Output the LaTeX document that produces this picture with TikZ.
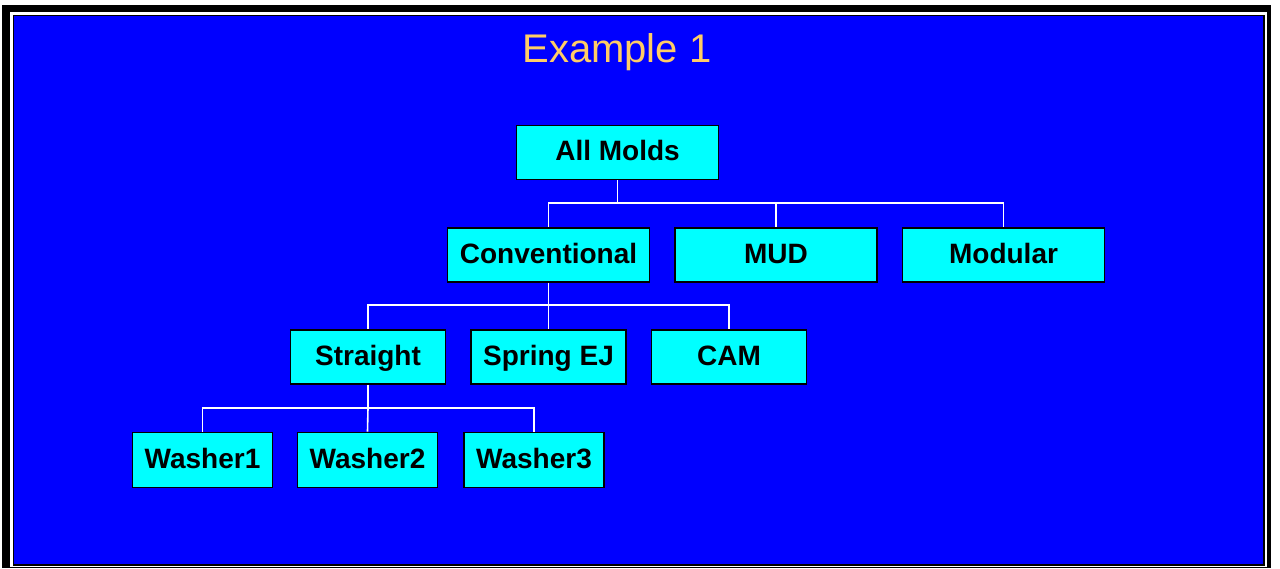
\documentclass[tikz,border=0pt]{standalone}
\usepackage{fontspec}
\setmainfont{Liberation Sans}
\usepackage{xcolor}
\usepackage{tikz}
\usetikzlibrary{positioning}
\definecolor{slideblue}{HTML}{0000FF}
\definecolor{boxcyan}{HTML}{00FFFF}
\definecolor{titlegold}{HTML}{FFCC66}

\begin{document}
\begin{tikzpicture}[
  x=1pt,y=-1pt,
  font=\bfseries\fontsize{28}{30}\selectfont,
  mold/.style={draw=black,line width=1.8pt,fill=boxcyan,inner sep=0pt,text height=21pt,text depth=5pt,minimum width=202pt,minimum height=54pt},
  sub/.style={mold,minimum width=155pt},
  washer/.style={mold,minimum width=140pt,minimum height=55pt},
  link/.style={draw=white,line width=1.6pt}
]
\useasboundingbox (0,0) rectangle (1280,568);
% slide frame
\fill[white] (0,0) rectangle (1280,568);
\fill[black] (2,5) rectangle (1271,568);
\fill[white] (10,12) rectangle (1267,567);
\filldraw[fill=slideblue,draw=black,line width=1.5pt] (13.5,15.5) rectangle (1264,565);
\node[text=titlegold,font=\fontsize{40}{44}\selectfont,anchor=base] (title) at (617,62) {Example 1};
% tree
\node[mold] (all) at (617.5,152.5) {All Molds};
\node[mold] (conv) at (548.5,255) {Conventional};
\node[mold] (mud) at (776,255) {MUD};
\node[mold] (modular) at (1003.5,255) {Modular};
\node[sub] (straight) at (368,357) {Straight};
\node[sub] (spring) at (548.5,357) {Spring EJ};
\node[sub] (cam) at (729,357) {CAM};
\node[washer] (w1) at (202.5,460) {Washer1};
\node[washer] (w2) at (367.5,460) {Washer2};
\node[washer] (w3) at (534,460) {Washer3};
\coordinate (bus1) at (617.5,203);
\coordinate (bus2) at (548.5,305);
\coordinate (bus3) at (368,408);
\draw[link] (all.south) -- (bus1);
\draw[link] (bus1) -| (conv.north);
\draw[link] (bus1) -| (mud.north);
\draw[link] (bus1) -| (modular.north);
\draw[link] (conv.south) -- (bus2);
\draw[link] (bus2) -| (straight.north);
\draw[link] (bus2) -- (spring.north);
\draw[link] (bus2) -| (cam.north);
\draw[link] (straight.south) -- (bus3);
\draw[link] (bus3) -| (w1.north);
\draw[link] (bus3) -- (w2.north);
\draw[link] (bus3) -| (w3.north);
\end{tikzpicture}
\end{document}
